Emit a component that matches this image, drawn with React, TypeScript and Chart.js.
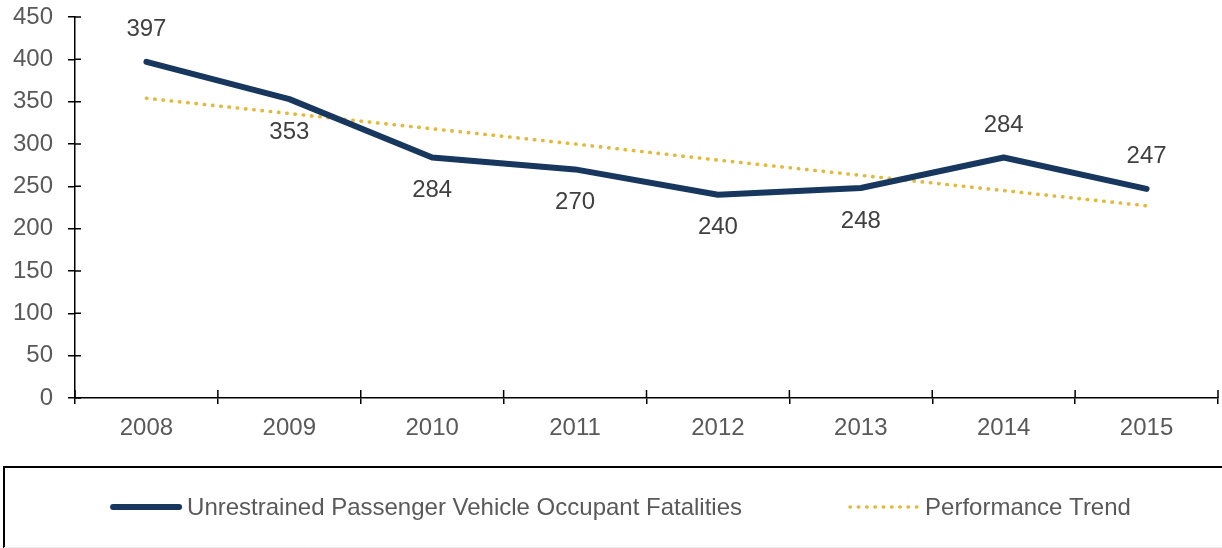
import React, { useEffect, useRef } from "react";
import { Chart, registerables } from "chart.js";

Chart.register(...registerables);

const years = ["2008", "2009", "2010", "2011", "2012", "2013", "2014", "2015"];
const fatalities = [397, 353, 284, 270, 240, 248, 284, 247];
const trend = [354, 336, 318, 300, 281, 263, 245, 227];
const labelAbove = [true, false, false, false, false, false, true, true];
const seriesNames = ["Unrestrained Passenger Vehicle Occupant Fatalities", "Performance Trend"];
const yMin = 0;
const yMax = 450;
const yStep = 50;

const FONT = 'Arial, "Liberation Sans", sans-serif';
const NAVY = "#17375E";
const GOLD = "#E2B93B";
const TICK_GREY = "#595959";
const LABEL_GREY = "#404040";

const dataLabelPlugin = {
  id: "dataLabels",
  afterDatasetsDraw(chart: any) {
    const meta = chart.getDatasetMeta(0);
    const ctx = chart.ctx;
    ctx.save();
    ctx.font = `24px ${FONT}`;
    ctx.fillStyle = LABEL_GREY;
    ctx.textAlign = "center";
    ctx.textBaseline = "middle";
    meta.data.forEach((pt: any, i: number) => {
      const dy = labelAbove[i] ? -32 : 33;
      ctx.fillText(String(fatalities[i]), pt.x, pt.y + dy);
    });
    ctx.restore();
  },
};

const innerTicksPlugin = {
  id: "innerTicks",
  afterDraw(chart: any) {
    const { ctx, chartArea, scales } = chart;
    const x = scales.x;
    const y = scales.y;
    ctx.save();
    ctx.strokeStyle = "#000";
    ctx.lineWidth = 1.5;
    ctx.beginPath();
    y.ticks.forEach((_t: any, i: number) => {
      const py = y.getPixelForTick(i);
      ctx.moveTo(chartArea.left, py);
      ctx.lineTo(chartArea.left + 6, py);
    });
    const step = x.getPixelForValue(1) - x.getPixelForValue(0);
    for (let i = 0; i <= years.length; i++) {
      const px = x.getPixelForValue(0) - step / 2 + step * i;
      ctx.moveTo(px, chartArea.bottom);
      ctx.lineTo(px, chartArea.bottom - 8);
    }
    ctx.stroke();
    ctx.restore();
  },
};

const legendPlugin = {
  id: "customLegend",
  afterDraw(chart: any) {
    const ctx = chart.ctx;
    const W = chart.width;
    const H = chart.height;
    ctx.save();
    // frame
    ctx.strokeStyle = "#000";
    ctx.lineWidth = 2;
    ctx.beginPath();
    ctx.moveTo(4, H + 2);
    ctx.lineTo(4, 467);
    ctx.lineTo(W + 2, 467);
    ctx.stroke();
    ctx.strokeStyle = "#ececec";
    ctx.lineWidth = 1;
    ctx.beginPath();
    ctx.moveTo(4, 547.5);
    ctx.lineTo(W, 547.5);
    ctx.stroke();

    ctx.font = `24px ${FONT}`;
    ctx.textBaseline = "middle";
    ctx.textAlign = "left";
    const ds = chart.data.datasets;
    const w1 = ctx.measureText(ds[0].label).width;
    const w2 = ctx.measureText(ds[1].label).width;
    const sample1 = 72;
    const sample2 = 70;
    const gapText1 = 5;
    const gapText2 = 7;
    const itemGap = 106;
    const total = sample1 + gapText1 + w1 + itemGap + sample2 + gapText2 + w2;
    const cy = 507;
    let cx = 620.5 - total / 2;

    // item 1
    ctx.strokeStyle = ds[0].borderColor;
    ctx.lineWidth = ds[0].borderWidth;
    ctx.lineCap = "round";
    ctx.setLineDash([]);
    ctx.beginPath();
    ctx.moveTo(cx + 3, cy);
    ctx.lineTo(cx + sample1 - 3, cy);
    ctx.stroke();
    cx += sample1 + gapText1;
    ctx.fillStyle = TICK_GREY;
    ctx.fillText(ds[0].label, cx, cy + 1);
    cx += w1 + itemGap;

    // item 2
    ctx.strokeStyle = ds[1].borderColor;
    ctx.lineWidth = ds[1].borderWidth;
    ctx.lineCap = "round";
    ctx.setLineDash(ds[1].borderDash);
    ctx.beginPath();
    ctx.moveTo(cx + 2, cy);
    ctx.lineTo(cx + sample2, cy);
    ctx.stroke();
    ctx.setLineDash([]);
    cx += sample2 + gapText2;
    ctx.fillText(ds[1].label, cx, cy + 1);
    ctx.restore();
  },
};

export default function App() {
  const canvasRef = useRef<HTMLCanvasElement | null>(null);

  useEffect(() => {
    if (!canvasRef.current) return;
    const chart = new Chart(canvasRef.current, {
      type: "line",
      data: {
        labels: years,
        datasets: [
          {
            label: seriesNames[0],
            data: fatalities,
            borderColor: NAVY,
            backgroundColor: NAVY,
            borderWidth: 6,
            borderCapStyle: "round",
            borderJoinStyle: "round",
            pointRadius: 0,
            tension: 0,
            order: 1,
          },
          {
            label: seriesNames[1],
            data: trend,
            borderColor: GOLD,
            backgroundColor: GOLD,
            borderWidth: 3.6,
            borderDash: [0.4, 7.9],
            borderCapStyle: "round",
            pointRadius: 0,
            tension: 0,
            order: 2,
          },
        ],
      },
      options: {
        animation: false,
        responsive: true,
        maintainAspectRatio: false,
        layout: { autoPadding: false, padding: { top: 17, right: 4, bottom: 72, left: 0 } },
        plugins: {
          legend: { display: false },
          tooltip: { enabled: false },
          title: { display: false },
        },
        scales: {
          x: {
            type: "category",
            offset: true,
            grid: {
              display: true,
              offset: true,
              drawOnChartArea: false,
              drawTicks: true,
              tickLength: 6,
              color: "#000",
              lineWidth: 1.5,
            },
            border: { display: true, color: "#000", width: 1.5 },
            ticks: {
              font: { family: FONT, size: 24 },
              color: TICK_GREY,
              padding: 10,
              maxRotation: 0,
            },
            afterFit: (s: any) => {
              s.height = 78;
              s.paddingLeft = 0;
              s.paddingRight = 0;
            },
          },
          y: {
            min: yMin,
            max: yMax,
            grid: {
              display: true,
              drawOnChartArea: false,
              drawTicks: true,
              tickLength: 7,
              color: "#000",
              lineWidth: 1.5,
            },
            border: { display: true, color: "#000", width: 1.5 },
            ticks: {
              stepSize: yStep,
              font: { family: FONT, size: 24 },
              color: TICK_GREY,
              padding: 15,
            },
            afterFit: (s: any) => {
              s.width = 75;
              s.paddingTop = 0;
              s.paddingBottom = 0;
            },
          },
        },
      },
      plugins: [dataLabelPlugin, innerTicksPlugin, legendPlugin],
    });
    return () => chart.destroy();
  }, []);

  return (
    <div style={{ position: "absolute", left: 0, top: 0, width: 1222, height: 548, background: "#fff" }}>
      <canvas ref={canvasRef} />
    </div>
  );
}
